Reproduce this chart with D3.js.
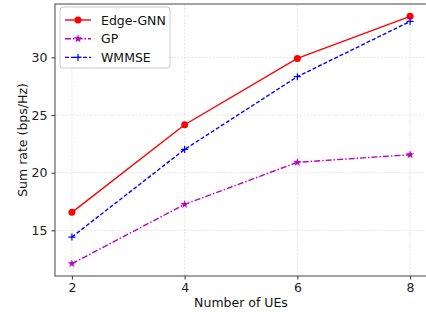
<!DOCTYPE html>
<html>
<head>
<meta charset="utf-8">
<script src="https://cdn.jsdelivr.net/npm/d3@7"></script>
<style>
  body { margin: 0; background: #fff; }
  svg { display: block; font-family: "DejaVu Sans", sans-serif; }
</style>
</head>
<body>
<div id="chart"></div>
<script>
// values
const numUEs = [2, 4, 6, 8];
const edgeGnn = [16.56, 24.16, 29.91, 33.56];
const gp = [12.11, 17.25, 20.9, 21.56];
const wmmse = [14.42, 22.02, 28.33, 33.12];
const xTicks = [2, 4, 6, 8];
const yTicks = [15, 20, 25, 30];

const series = [
  { name: 'Edge-GNN', values: edgeGnn, color: '#ff0000', dash: null, marker: 'circle' },
  { name: 'GP', values: gp, color: '#bf00bf', dash: '6,2,1.5,2', marker: 'star' },
  { name: 'WMMSE', values: wmmse, color: '#0000ff', dash: '4,2', marker: 'plus' }
];

const width = 426, height = 312;
const margin = { left: 55, right: -1, top: 4, bottom: 36 };

const svg = d3.select('#chart').append('svg')
  .attr('width', width)
  .attr('height', height);

let x = d3.scaleLinear().domain([1.7, 8.3]).range([margin.left, width - margin.right]);
let y = d3.scaleLinear().domain([11.04, 34.63]).range([height - margin.bottom, margin.top]);

// grid
let grid = svg.append('g').attr('stroke', '#dddddd').attr('stroke-width', 0.8).attr('stroke-dasharray', '2,1.5');
xTicks.forEach(t => {
  grid.append('line').attr('x1', x(t)).attr('x2', x(t)).attr('y1', y.range()[0]).attr('y2', y.range()[1]);
});
yTicks.forEach(t => {
  grid.append('line').attr('x1', x.range()[0]).attr('x2', x.range()[1]).attr('y1', y(t)).attr('y2', y(t));
});

// axes
let xAxis = d3.axisBottom(x).tickValues(xTicks).tickSize(3.5).tickPadding(4).tickFormat(d3.format('d'));
let yAxis = d3.axisLeft(y).tickValues(yTicks).tickSize(3.5).tickPadding(4).tickFormat(d3.format('d'));

svg.append('g').attr('transform', `translate(0,${y.range()[0]})`).call(xAxis)
  .call(g => g.select('.domain').remove());
svg.append('g').attr('transform', `translate(${x.range()[0]},0)`).call(yAxis)
  .call(g => g.select('.domain').remove());
svg.selectAll('.tick text').attr('font-size', 12.5).attr('fill', '#222').attr('font-family', '"DejaVu Sans", sans-serif');
svg.selectAll('.tick line').attr('stroke', '#333');

// spines
svg.append('rect')
  .attr('x', x.range()[0]).attr('y', y.range()[1])
  .attr('width', x.range()[1] - x.range()[0]).attr('height', y.range()[0] - y.range()[1])
  .attr('fill', 'none').attr('stroke', '#444').attr('stroke-width', 1);

// axis labels
svg.append('text')
  .attr('x', (x.range()[0] + 427) / 2).attr('y', 307)
  .attr('text-anchor', 'middle').attr('font-size', 12.5).attr('fill', '#111')
  .text('Number of UEs');
svg.append('text')
  .attr('transform', `translate(26.5,${(y.range()[0] + y.range()[1]) / 2}) rotate(-90)`)
  .attr('text-anchor', 'middle').attr('font-size', 12.5).attr('fill', '#111')
  .text('Sum rate (bps/Hz)');

function drawMarker(g, kind, cx, cy, color) {
  if (kind === 'circle') {
    g.append('circle').attr('cx', cx).attr('cy', cy).attr('r', 3.5).attr('fill', color);
  } else if (kind === 'star') {
    g.append('path').attr('d', d3.symbol(d3.symbolStar, 22)())
      .attr('transform', `translate(${cx},${cy})`).attr('fill', color);
  } else {
    g.append('path').attr('d', `M${cx - 3.5},${cy}H${cx + 3.5}M${cx},${cy - 3.5}V${cy + 3.5}`)
      .attr('stroke', color).attr('stroke-width', 1.2);
  }
}

let line = d3.line().x(d => x(d[0])).y(d => y(d[1]));

series.forEach(s => {
  let pts = numUEs.map((n, i) => [n, s.values[i]]);
  let g = svg.append('g');
  g.append('path').datum(pts).attr('d', line)
    .attr('fill', 'none').attr('stroke', s.color).attr('stroke-width', 1.4)
    .attr('stroke-dasharray', s.dash);
  pts.forEach(p => drawMarker(g, s.marker, x(p[0]), y(p[1]), s.color));
});

// legend
let legend = svg.append('g').attr('transform', 'translate(60,7)');
legend.append('rect').attr('width', 110).attr('height', 61).attr('rx', 3)
  .attr('fill', 'rgba(255,255,255,0.85)').attr('stroke', '#cccccc').attr('stroke-width', 1);
series.forEach((s, i) => {
  let ly = 13 + i * 18.7;
  legend.append('line').attr('x1', 5).attr('x2', 31).attr('y1', ly).attr('y2', ly)
    .attr('stroke', s.color).attr('stroke-width', 1.4).attr('stroke-dasharray', s.dash);
  drawMarker(legend, s.marker, 18, ly, s.color);
  legend.append('text').attr('x', 41).attr('y', ly + 4.5)
    .attr('font-size', 12.5).attr('fill', '#111').text(s.name);
});
</script>
</body>
</html>
